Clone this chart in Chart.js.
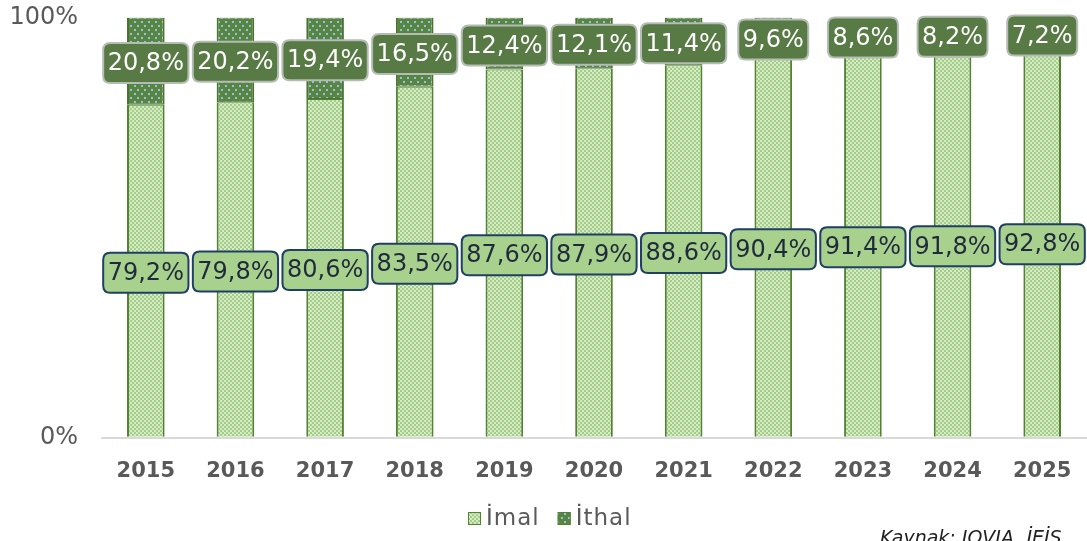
<!DOCTYPE html>
<html>
<head>
<meta charset="utf-8">
<script src="https://cdn.jsdelivr.net/npm/chart.js@4.4.1/dist/chart.umd.min.js"></script>
<style>
  html, body { margin: 0; padding: 0; background: #fff; overflow: hidden; }
  #wrap { width: 1087px; height: 541px; position: relative; overflow: hidden; }
  #c { position: absolute; left: 0; top: -20px; }
</style>
</head>
<body>
<div id="wrap"><canvas id="c" width="1087" height="561"></canvas></div>
<script>
(function () {
  'use strict';

  const years = ['2015', '2016', '2017', '2018', '2019', '2020', '2021', '2022', '2023', '2024', '2025'];
  const imal = [79.2, 79.8, 80.6, 83.5, 87.6, 87.9, 88.6, 90.4, 91.4, 91.8, 92.8];
  const ithal = [20.8, 20.2, 19.4, 16.5, 12.4, 12.1, 11.4, 9.6, 8.6, 8.2, 7.2];
  const yTicks = [0, 100];
  const source = 'Kaynak: IQVIA, İEİS';

  const FONT = "'DejaVu Sans', Verdana, sans-serif";
  const SHIFT = 20; // canvas is moved up by this much
  const darkGreen = '#548235';
  const lightGreen = '#a9d18e';

  function checkPattern() {
    const p = document.createElement('canvas');
    p.width = 4; p.height = 4;
    const g = p.getContext('2d');
    g.fillStyle = '#a3ce86';
    g.fillRect(0, 0, 4, 4);
    g.fillStyle = '#d6eac8';
    g.fillRect(0, 0, 2, 2);
    g.fillRect(2, 2, 2, 2);
    return g.createPattern(p, 'repeat');
  }

  function dotPattern() {
    const p = document.createElement('canvas');
    p.width = 7; p.height = 8;
    const g = p.getContext('2d');
    g.fillStyle = '#5a8540';
    g.fillRect(0, 0, 7, 8);
    g.fillStyle = '#8cc4ee';
    g.fillRect(1, 1, 2, 2);
    g.fillRect(4, 5, 2, 2);
    return g.createPattern(p, 'repeat');
  }

  function roundRect(ctx, x, y, w, h, r) {
    ctx.beginPath();
    ctx.moveTo(x + r, y);
    ctx.lineTo(x + w - r, y);
    ctx.quadraticCurveTo(x + w, y, x + w, y + r);
    ctx.lineTo(x + w, y + h - r);
    ctx.quadraticCurveTo(x + w, y + h, x + w - r, y + h);
    ctx.lineTo(x + r, y + h);
    ctx.quadraticCurveTo(x, y + h, x, y + h - r);
    ctx.lineTo(x, y + r);
    ctx.quadraticCurveTo(x, y, x + r, y);
    ctx.closePath();
  }

  const labelStyles = [
    { fill: lightGreen, stroke: '#1f3f64', text: '#1f2a3c' },
    { fill: '#587a45', stroke: '#b4bcb4', text: '#ffffff' }
  ];

  const boxLabels = {
    id: 'boxLabels',
    afterDatasetsDraw(chart) {
      const ctx = chart.ctx;
      const top = chart.chartArea.top;
      ctx.save();
      ctx.font = '24px ' + FONT;
      ctx.textAlign = 'center';
      ctx.textBaseline = 'middle';
      chart.data.datasets.forEach(function (ds, di) {
        const meta = chart.getDatasetMeta(di);
        const st = labelStyles[di];
        meta.data.forEach(function (bar, i) {
          const txt = ds.data[i].toFixed(1).replace('.', ',') + '%';
          const w = ctx.measureText(txt).width + 9;
          const h = 40;
          let cy = (bar.y + bar.base) / 2 + 2;
          if (cy - h / 2 < top - 2) cy = top - 2 + h / 2;
          roundRect(ctx, bar.x - w / 2, cy - h / 2, w, h, 7);
          ctx.fillStyle = st.fill;
          ctx.fill();
          ctx.lineWidth = 2;
          ctx.strokeStyle = st.stroke;
          ctx.stroke();
          ctx.fillStyle = st.text;
          ctx.fillText(txt, bar.x, cy + 1);
        });
      });
      ctx.restore();
    }
  };

  // legend + source note, drawn by hand so the spacing matches
  const footer = {
    id: 'footer',
    afterDraw(chart) {
      const ctx = chart.ctx;
      ctx.save();
      ctx.font = '23px ' + FONT;
      ctx.letterSpacing = '1px';
      ctx.textBaseline = 'middle';
      ctx.textAlign = 'left';
      let x = 468;
      const y = 519 + SHIFT;
      chart.data.datasets.forEach(function (ds) {
        ctx.fillStyle = ds.backgroundColor;
        ctx.fillRect(x, y - 7, 13, 13);
        ctx.strokeStyle = darkGreen;
        ctx.lineWidth = 1;
        ctx.strokeRect(x + 0.5, y - 6.5, 12, 12);
        ctx.fillStyle = '#595959';
        ctx.fillText(ds.label, x + 18, y);
        x += 18 + ctx.measureText(ds.label).width + 18;
      });
      ctx.letterSpacing = '0px';
      ctx.font = 'italic 19px ' + FONT;
      ctx.fillStyle = '#222';
      ctx.textBaseline = 'alphabetic';
      ctx.fillText(source, 880, 544 + SHIFT);
      ctx.restore();
    }
  };

  const imalFill = checkPattern();
  const ithalFill = dotPattern();

  new Chart(document.getElementById('c'), {
    type: 'bar',
    data: {
      labels: years,
      datasets: [
        {
          label: 'İmal',
          data: imal,
          backgroundColor: imalFill,
          borderColor: darkGreen,
          borderWidth: { left: 2, right: 2, top: 1, bottom: 0 },
          borderSkipped: false,
          barPercentage: 0.42,
          categoryPercentage: 1
        },
        {
          label: 'İthal',
          data: ithal,
          backgroundColor: ithalFill,
          borderColor: '#4a7330',
          borderWidth: { left: 2, right: 2, top: 1, bottom: 1 },
          borderSkipped: false,
          barPercentage: 0.42,
          categoryPercentage: 1
        }
      ]
    },
    options: {
      responsive: false,
      animation: false,
      layout: { padding: { top: 0, right: 0, left: 0, bottom: 44 } },
      scales: {
        x: {
          stacked: true,
          grid: { display: false },
          border: { display: false },
          ticks: { color: '#595959', padding: 13, font: { size: 21, weight: 'bold', family: FONT } }
        },
        y: {
          stacked: true,
          min: 0,
          max: 100,
          afterBuildTicks: function (axis) {
            axis.ticks = yTicks.map(function (v) { return { value: v }; });
          },
          afterFit: function (axis) { axis.width = 101; },
          grid: {
            drawTicks: false,
            lineWidth: 2,
            color: function (c) { return c.tick && c.tick.value === 0 ? '#d9d9d9' : 'rgba(0,0,0,0)'; }
          },
          border: { display: false },
          ticks: {
            color: '#595959',
            padding: 23,
            font: { size: 24, family: FONT },
            callback: function (v) { return v + '%'; }
          }
        }
      },
      plugins: {
        legend: { display: false },
        tooltip: { enabled: false }
      }
    },
    plugins: [boxLabels, footer]
  });
})();
</script>
</body>
</html>
